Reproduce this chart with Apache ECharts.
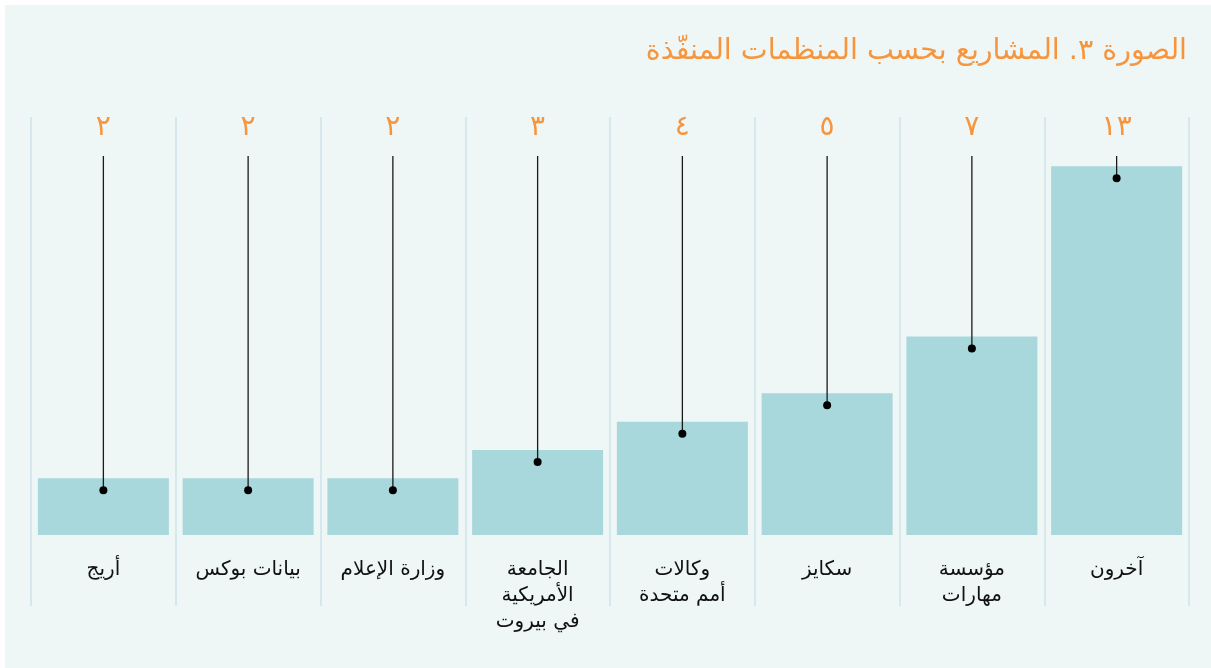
<!DOCTYPE html>
<html>
<head>
<meta charset="utf-8">
<script src="https://cdn.jsdelivr.net/npm/echarts@6/dist/echarts.min.js"></script>
<style>
  html, body { margin: 0; padding: 0; background: #ffffff; }
  #chart { position: absolute; left: 5px; top: 5px; width: 1206px; height: 663px; background: #eef7f6; }
</style>
</head>
<body>
<div id="chart"></div>
<script>
// 数据：从右到左排列
const categories = ['آخرون', 'مؤسسة\nمهارات', 'سكايز', 'وكالات\nأمم متحدة', 'الجامعة\nالأمريكية\nفي بيروت', 'وزارة الإعلام', 'بيانات بوكس', 'أريج'];
const values = [13, 7, 5, 4, 3, 2, 2, 2];
const valueLabels = ['١٣', '٧', '٥', '٤', '٣', '٢', '٢', '٢'];

const orange = '#f7953d';
const font = "'DejaVu Sans', 'Noto Sans', sans-serif";

var myChart = echarts.init(document.getElementById('chart'));

let option = {
  animation: false,
  title: {
    text: 'الصورة ٣. المشاريع بحسب المنظمات المنفّذة',
    right: 19,
    top: 27,
    textStyle: { color: orange, fontSize: 28.5, fontWeight: 'normal', fontFamily: font }
  },
  grid: { left: 26, right: 22, top: 112, bottom: 62 },
  xAxis: {
    type: 'category',
    data: categories,
    inverse: true,
    axisLine: { show: false },
    axisTick: { show: false },
    splitLine: { show: true, interval: 0, lineStyle: { color: '#cde5ea', width: 1.5 } },
    axisLabel: {
      interval: 0,
      margin: -49,
      color: '#111111',
      fontSize: 20,
      lineHeight: 26,
      fontFamily: font,
      verticalAlign: 'top'
    }
  },
  yAxis: {
    type: 'value',
    min: -2.5,
    max: 14.74,
    show: false,
    splitLine: { show: false }
  },
  series: [
    {
      type: 'bar',
      data: values,
      barWidth: 131,
      itemStyle: { color: '#a8d7dc' },
      z: 2
    },
    {
      // 竖线、圆点和数值标签
      type: 'custom',
      data: values.map((v, i) => [i, v]),
      z: 5,
      renderItem: function (params, api) {
        let p = api.coord([api.value(0), api.value(1)]);
        let top = params.coordSys.y;
        let dotY = p[1] + 12;
        return {
          type: 'group',
          children: [
            {
              type: 'line',
              shape: { x1: p[0], y1: top + 39, x2: p[0], y2: dotY },
              style: { stroke: '#1a1a1a', lineWidth: 1.3 }
            },
            {
              type: 'circle',
              shape: { cx: p[0], cy: dotY, r: 4 },
              style: { fill: '#000000' }
            },
            {
              type: 'text',
              style: {
                text: valueLabels[params.dataIndex],
                x: p[0],
                y: top + 11,
                align: 'center',
                verticalAlign: 'middle',
                fill: orange,
                fontSize: 28,
                fontFamily: font
              }
            }
          ]
        };
      }
    }
  ]
};
myChart.setOption(option);
</script>
</body>
</html>
